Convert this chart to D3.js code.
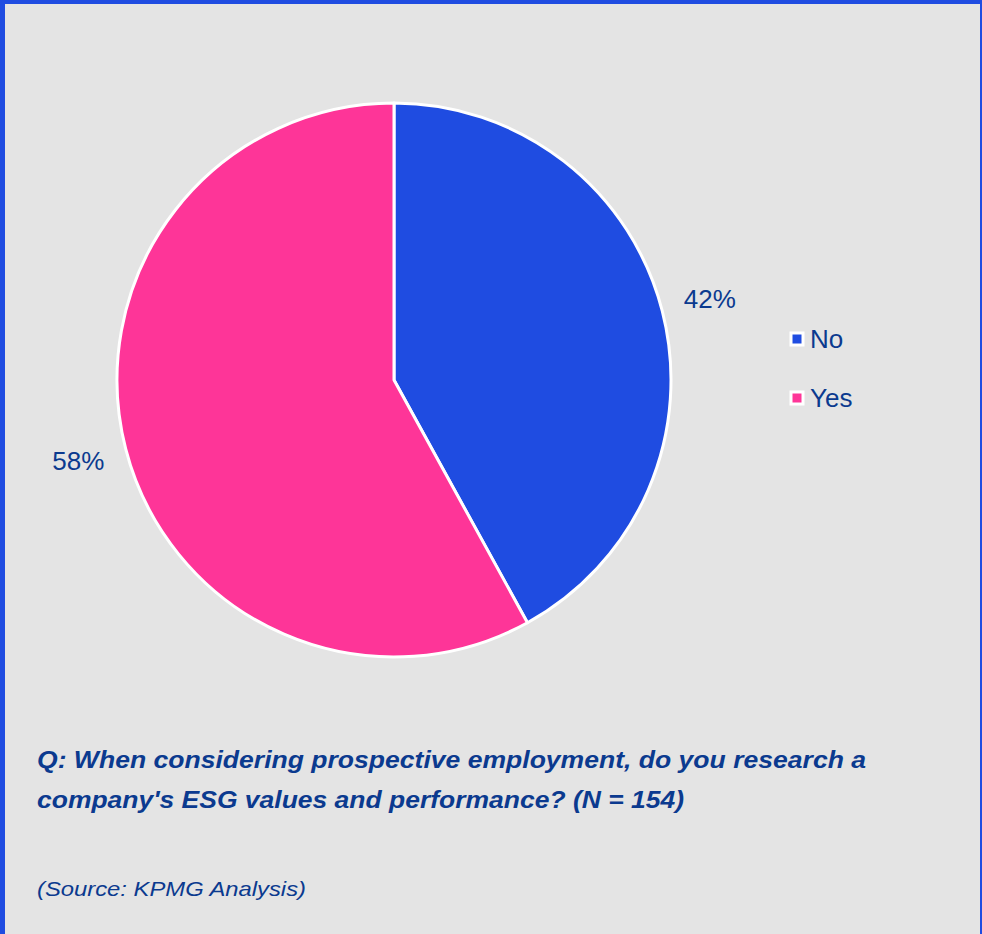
<!DOCTYPE html>
<html>
<head>
<meta charset="utf-8">
<script src="https://cdn.jsdelivr.net/npm/d3@7"></script>
<style>
  html, body { margin: 0; padding: 0; background: #e4e4e4; }
  svg { display: block; font-family: "Liberation Sans", Arial, sans-serif; }
</style>
</head>
<body>
<div id="chart"></div>
<script>
// ==================== DATA ====================
const categories = ["No", "Yes"];
const values = [42, 58];
const colors = ["#1f4ce1", "#fe3598"];
const question = [
  "Q: When considering prospective employment, do you research a",
  "company's ESG values and performance? (N = 154)",
];
const source = "(Source: KPMG Analysis)";

// ==================== SETUP ====================
const width = 982,
  height = 934;
const textColor = "#0b3a8f";
const cx = 394,
  cy = 380,
  radius = 277;

const svg = d3
  .select("#chart")
  .append("svg")
  .attr("width", width)
  .attr("height", height);

// background + frame
svg.append("rect").attr("width", width).attr("height", height).attr("fill", "#e4e4e4");
svg.append("rect").attr("x", 0).attr("y", 0).attr("width", width).attr("height", 4).attr("fill", "#1f4ce1");
svg.append("rect").attr("x", 0).attr("y", 0).attr("width", 5).attr("height", height).attr("fill", "#1f4ce1");
svg.append("rect").attr("x", width - 2).attr("y", 0).attr("width", 2).attr("height", height).attr("fill", "#1f4ce1");

// ==================== PIE ====================
const data = categories.map((c, i) => ({ name: c, value: values[i], color: colors[i] }));
const pie = d3.pie().sort(null).value((d) => d.value);
const arcs = pie(data);

const arc = d3.arc().innerRadius(0).outerRadius(radius);
const labelArc = d3.arc().innerRadius(326).outerRadius(326);

const g = svg.append("g").attr("transform", `translate(${cx},${cy})`);

g.selectAll("path")
  .data(arcs)
  .enter()
  .append("path")
  .attr("d", arc)
  .attr("fill", (d) => d.data.color)
  .attr("stroke", "#ffffff")
  .attr("stroke-width", 3)
  .attr("stroke-linejoin", "round");

g.selectAll("text.lbl")
  .data(arcs)
  .enter()
  .append("text")
  .attr("class", "lbl")
  .attr("transform", (d) => `translate(${labelArc.centroid(d)})`)
  .attr("text-anchor", "middle")
  .attr("dy", "0.35em")
  .attr("font-size", 26)
  .attr("fill", textColor)
  .text((d) => d.data.value + "%");

// ==================== LEGEND ====================
const legend = svg
  .append("g")
  .selectAll("g")
  .data(data)
  .enter()
  .append("g")
  .attr("transform", (d, i) => `translate(791,${339 + i * 59})`);

legend
  .append("rect")
  .attr("x", 0)
  .attr("y", -6)
  .attr("width", 12)
  .attr("height", 12)
  .attr("fill", (d) => d.color)
  .attr("stroke", "#ffffff")
  .attr("stroke-width", 3);

legend
  .append("text")
  .attr("x", 19)
  .attr("dy", "0.35em")
  .attr("font-size", 26)
  .attr("fill", textColor)
  .text((d) => d.name);

// ==================== CAPTIONS ====================
const qLengths = [829, 647];
svg
  .selectAll("text.q")
  .data(question)
  .enter()
  .append("text")
  .attr("class", "q")
  .attr("x", 37)
  .attr("y", (d, i) => 768 + i * 40)
  .attr("font-size", 24.5)
  .attr("font-weight", "bold")
  .attr("font-style", "italic")
  .attr("fill", textColor)
  .attr("textLength", (d, i) => qLengths[i])
  .attr("lengthAdjust", "spacingAndGlyphs")
  .text((d) => d);

svg
  .append("text")
  .attr("x", 37)
  .attr("y", 896)
  .attr("font-size", 21)
  .attr("font-style", "italic")
  .attr("fill", textColor)
  .attr("textLength", 269)
  .attr("lengthAdjust", "spacingAndGlyphs")
  .text(source);
</script>
</body>
</html>
